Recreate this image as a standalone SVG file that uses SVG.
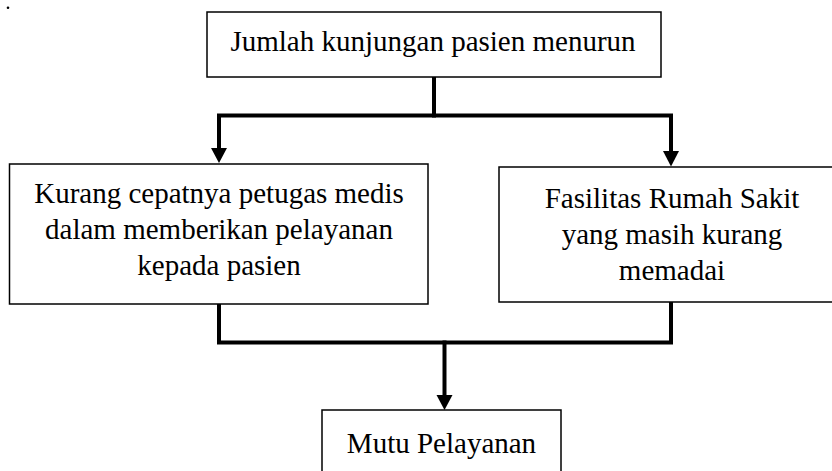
<svg xmlns="http://www.w3.org/2000/svg" width="832" height="471" viewBox="0 0 832 471">
  <style>
    .box { fill: #ffffff; stroke: #000000; stroke-width: 1.5; }
    .lbl { font-family: "Times New Roman", "Liberation Serif", Tinos, Times, serif; font-size: 29px; fill: #000000; text-anchor: middle; }
    .conn { fill: none; stroke: #000000; stroke-width: 4; stroke-linejoin: miter; stroke-linecap: square; }
  </style>
  <rect width="832" height="471" fill="#ffffff"/>
  <circle cx="8" cy="7.7" r="1.3" fill="#000000"/>

  <g id="connectors">
    <path class="conn" d="M434,78 L434,115.5"/>
    <path class="conn" d="M219,148 L219,115.5 L671,115.5 L671,150"/>
    <path d="M211,148 L227,148 L219,163 Z" fill="#000000"/>
    <path d="M663,151 L679,151 L671,166.5 Z" fill="#000000"/>
    <path class="conn" d="M219,305 L219,342.5 L671,342.5 L671,303"/>
    <path class="conn" d="M444.5,342.5 L444.5,395"/>
    <path d="M436.5,395 L452.5,395 L444.5,410 Z" fill="#000000"/>
  </g>

  <g id="node-top">
    <rect class="box" x="207" y="12" width="454" height="65"/>
    <text class="lbl" x="433" y="51">Jumlah kunjungan pasien menurun</text>
  </g>

  <g id="node-left">
    <rect class="box" x="9.5" y="164" width="418.5" height="140"/>
    <text class="lbl" x="219" y="203">Kurang cepatnya petugas medis</text>
    <text class="lbl" x="219" y="239">dalam memberikan pelayanan</text>
    <text class="lbl" x="219" y="275">kepada pasien</text>
  </g>

  <g id="node-right">
    <rect class="box" x="499" y="167" width="347" height="135"/>
    <text class="lbl" x="672" y="208">Fasilitas Rumah Sakit</text>
    <text class="lbl" x="672" y="244">yang masih kurang</text>
    <text class="lbl" x="672" y="280">memadai</text>
  </g>

  <g id="node-bottom">
    <rect class="box" x="322" y="410" width="239" height="80"/>
    <text class="lbl" x="441.5" y="453">Mutu Pelayanan</text>
  </g>
</svg>
